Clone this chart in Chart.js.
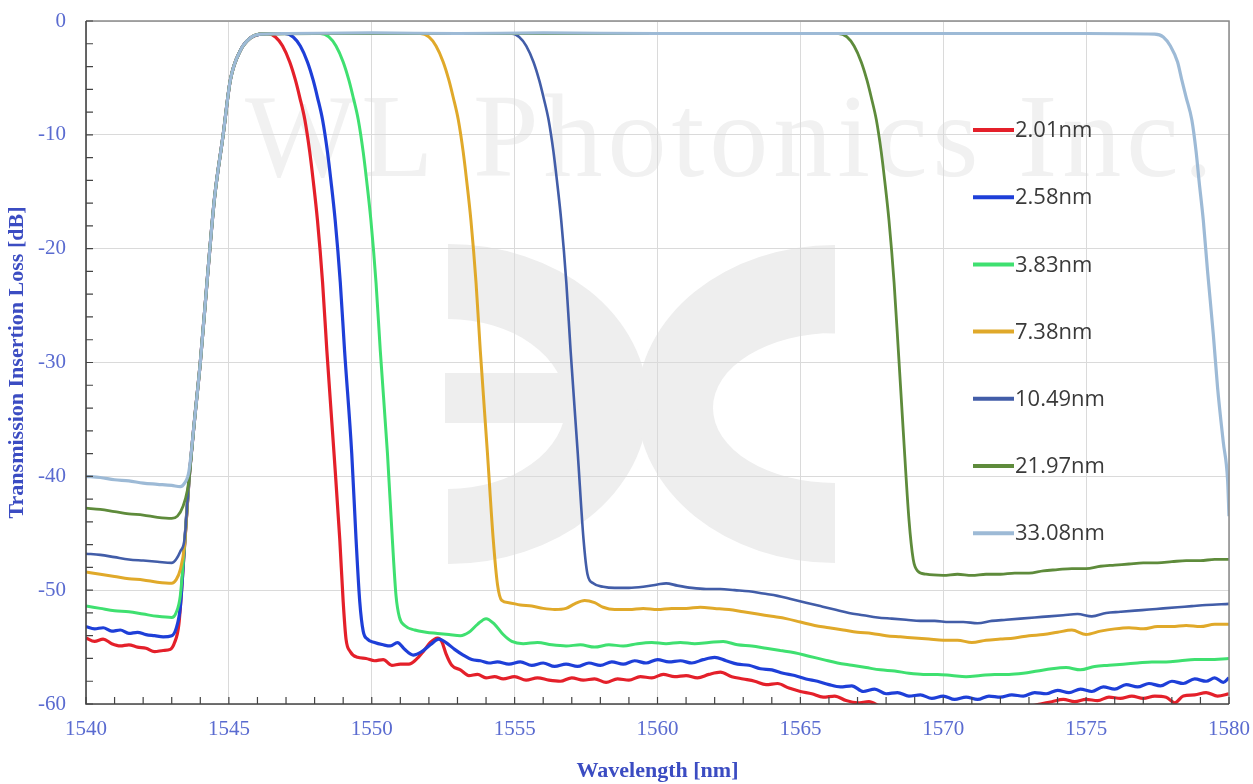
<!DOCTYPE html>
<html>
<head>
    <title>Transmission Insertion Loss</title>
    <script src="https://cdn.jsdelivr.net/npm/chart.js"></script>
    <style>
        body { margin: 0; background: #ffffff; }
        #wrap { width: 1253px; height: 784px; }
    </style>
</head>
<body>
    <div id="wrap">
        <canvas id="lossChart" width="1253" height="784"></canvas>
    </div>

    <script>
        // legend labels (filter bandwidths)
        const seriesNames = ['2.01nm', '2.58nm', '3.83nm', '7.38nm', '10.49nm', '21.97nm', '33.08nm'];
        const seriesColors = ['#e4202a', '#1e3fd8', '#3fe070', '#e0a92a', '#425da8', '#5e8b3b', '#9dbad6'];

        // axis ticks
        const xTicks = [1540, 1545, 1550, 1555, 1560, 1565, 1570, 1575, 1580];
        const yTicks = [0, -10, -20, -30, -40, -50, -60];

        // 2.01nm
        const wl201 = [1540, 1540.3, 1540.6, 1540.9, 1541.2, 1541.5, 1541.8, 1542.1, 1542.4, 1542.7, 1542.95, 1543.1, 1543.25, 1543.4,
            1543.6, 1543.8, 1544.0, 1544.25, 1544.5, 1544.8, 1545.05, 1545.4, 1545.75, 1546.1,
            1546.33, 1546.63, 1546.88, 1547.13, 1547.33, 1547.48, 1547.66, 1547.83, 1547.95, 1548.1, 1548.28, 1548.43, 1548.68, 1548.88, 1549.0, 1549.1, 1549.25,
            1549.5, 1549.8, 1550.1, 1550.4, 1550.7, 1551.0, 1551.3, 1551.55, 1551.8, 1552.05, 1552.3, 1552.45, 1552.6, 1552.8, 1553.1, 1553.4, 1553.7,
            1554.0, 1554.3, 1554.6, 1555.0, 1555.4, 1555.8, 1556.2, 1556.6, 1557.0, 1557.4, 1557.8, 1558.2, 1558.6, 1559.0, 1559.4, 1559.8,
            1560.2, 1560.6, 1561.0, 1561.4, 1561.8, 1562.2, 1562.6, 1563.0, 1563.4, 1563.8, 1564.2, 1564.6, 1565.0, 1565.4, 1565.8,
            1566.2, 1566.6, 1567.0, 1567.4, 1567.8, 1568.5, 1569.5, 1570.5, 1571.5, 1572.5, 1573.0, 1573.4, 1573.8, 1574.2, 1574.6,
            1575.0, 1575.4, 1575.8, 1576.2, 1576.6, 1577.0, 1577.4, 1577.8, 1578.1, 1578.4, 1578.8, 1579.2, 1579.6, 1580.0];
        const il201 = [-54.2, -54.5, -54.3, -54.7, -54.9, -54.8, -55.0, -55.1, -55.4, -55.3, -55.2, -54.6, -53.0, -48.0,
            -40.5, -35, -30, -22.5, -15.5, -10, -5.2, -2.6, -1.5, -1.15,
            -1.1, -1.4, -2.2, -3.6, -5.2, -6.7, -8.7, -11.5, -14, -17.5, -23, -29, -38, -45.5, -51, -54.3, -55.4,
            -55.9, -56.0, -56.2, -56.1, -56.6, -56.5, -56.5, -56.1, -55.4, -54.6, -54.2, -54.5, -55.6, -56.6, -57.0, -57.5, -57.4,
            -57.7, -57.6, -57.8, -57.6, -57.9, -57.7, -57.9, -58.0, -57.7, -57.9, -57.8, -58.1, -57.8, -57.9, -57.6, -57.7,
            -57.4, -57.6, -57.5, -57.7, -57.4, -57.2, -57.6, -57.8, -58.0, -58.3, -58.2, -58.6, -58.9, -59.1, -59.4,
            -59.3, -59.7, -59.9, -59.8, -60.2, -60.5, -60.6, -60.7, -60.5, -60.3, -60.2, -60.0, -59.8, -59.6, -59.8,
            -59.6, -59.7, -59.4, -59.5, -59.3, -59.5, -59.3, -59.4, -59.9, -59.3, -59.2, -59.0, -59.3, -59.1];

        // 2.58nm
        const wl258 = [1540, 1540.3, 1540.6, 1540.9, 1541.2, 1541.5, 1541.8, 1542.1, 1542.4, 1542.7, 1543.0, 1543.15, 1543.3, 1543.45,
            1543.6, 1543.8, 1544.0, 1544.25, 1544.5, 1544.8, 1545.05, 1545.4, 1545.75, 1546.1, 1546.5,
            1546.95, 1547.25, 1547.5, 1547.75, 1547.95, 1548.1, 1548.28, 1548.45, 1548.57, 1548.72, 1548.9, 1549.05, 1549.3, 1549.45, 1549.58, 1549.7, 1549.85,
            1550.1, 1550.4, 1550.65, 1550.9, 1551.15, 1551.45, 1551.75, 1552.05, 1552.35, 1552.6, 1552.9, 1553.2, 1553.5, 1553.8,
            1554.1, 1554.4, 1554.8, 1555.2, 1555.6, 1556.0, 1556.4, 1556.8, 1557.2, 1557.6, 1558.0, 1558.4, 1558.8, 1559.2, 1559.6,
            1560.0, 1560.4, 1560.8, 1561.2, 1561.6, 1562.0, 1562.4, 1562.8, 1563.2, 1563.6, 1564.0, 1564.4, 1564.8, 1565.2, 1565.6,
            1566.0, 1566.4, 1566.8, 1567.2, 1567.6, 1568.0, 1568.4, 1568.8, 1569.2, 1569.6, 1570.0, 1570.4, 1570.8, 1571.2, 1571.6,
            1572.0, 1572.4, 1572.8, 1573.2, 1573.6, 1574.0, 1574.4, 1574.8, 1575.2, 1575.6, 1576.0, 1576.4, 1576.8, 1577.2, 1577.6,
            1578.0, 1578.4, 1578.8, 1579.2, 1579.5, 1579.8, 1580.0];
        const il258 = [-53.2, -53.4, -53.3, -53.6, -53.5, -53.8, -53.7, -53.9, -54.0, -54.1, -54.0, -53.4, -51.5, -46,
            -40.5, -35, -30, -22.5, -15.5, -10, -5.2, -2.6, -1.5, -1.15, -1.1,
            -1.1, -1.4, -2.2, -3.6, -5.2, -6.7, -8.7, -11.5, -14, -17.5, -23, -29, -38, -45.5, -51, -53.6, -54.3,
            -54.6, -54.8, -54.9, -54.6, -55.2, -55.7, -55.4, -54.8, -54.3, -54.6, -55.2, -55.7, -56.1, -56.2,
            -56.4, -56.3, -56.5, -56.3, -56.6, -56.4, -56.7, -56.5, -56.7, -56.4, -56.6, -56.3, -56.5, -56.2, -56.4,
            -56.1, -56.3, -56.2, -56.4, -56.1, -55.9, -56.2, -56.5, -56.6, -56.9, -57.0, -57.3, -57.5, -57.8, -58.0,
            -58.3, -58.5, -58.4, -58.9, -58.7, -59.1, -59.0, -59.3, -59.2, -59.5, -59.3, -59.6, -59.4, -59.6, -59.3,
            -59.4, -59.2, -59.3, -59.0, -59.1, -58.8, -59.0, -58.7, -58.9, -58.5, -58.7, -58.3, -58.5, -58.2, -58.4,
            -58.0, -58.2, -57.8, -58.0, -57.7, -58.1, -57.7];

        // 3.83nm
        const wl383 = [1540, 1540.5, 1541.0, 1541.5, 1542.0, 1542.5, 1543.0, 1543.15, 1543.3, 1543.45,
            1543.6, 1543.8, 1544.0, 1544.25, 1544.5, 1544.8, 1545.05, 1545.4, 1545.75, 1546.1, 1546.6, 1547.2, 1547.8,
            1548.2, 1548.5, 1548.75, 1549.0, 1549.2, 1549.35, 1549.53, 1549.7, 1549.82, 1549.97, 1550.15, 1550.3, 1550.55, 1550.72, 1550.85, 1550.97,
            1551.15, 1551.5, 1551.9, 1552.3, 1552.7, 1553.1, 1553.4, 1553.7, 1554.0, 1554.3, 1554.6, 1554.9, 1555.3, 1555.8,
            1556.3, 1556.8, 1557.3, 1557.8, 1558.3, 1558.8, 1559.3, 1559.8, 1560.3, 1560.8, 1561.3, 1561.8, 1562.3, 1562.8,
            1563.3, 1563.8, 1564.3, 1564.8, 1565.3, 1565.8, 1566.3, 1566.8, 1567.3, 1567.8, 1568.3, 1568.8, 1569.3, 1569.8,
            1570.3, 1570.8, 1571.3, 1571.8, 1572.3, 1572.8, 1573.3, 1573.8, 1574.3, 1574.8, 1575.3, 1575.8, 1576.3, 1576.8,
            1577.3, 1577.8, 1578.3, 1578.8, 1579.3, 1580.0];
        const il383 = [-51.4, -51.6, -51.8, -51.9, -52.1, -52.3, -52.4, -52.0, -50.5, -46,
            -40.5, -35, -30, -22.5, -15.5, -10, -5.2, -2.6, -1.5, -1.15, -1.1, -1.1, -1.1,
            -1.1, -1.4, -2.2, -3.6, -5.2, -6.7, -8.7, -11.5, -14, -17.5, -23, -29, -38, -45.5, -50.5, -52.4,
            -53.1, -53.5, -53.7, -53.8, -53.9, -54.0, -53.7, -53.0, -52.5, -53.0, -53.9, -54.5, -54.7, -54.6,
            -54.8, -54.9, -54.8, -55.0, -54.8, -54.9, -54.7, -54.6, -54.7, -54.6, -54.7, -54.6, -54.5, -54.8,
            -54.9, -55.1, -55.3, -55.5, -55.8, -56.1, -56.4, -56.6, -56.8, -57.0, -57.1, -57.3, -57.4, -57.4,
            -57.5, -57.6, -57.5, -57.4, -57.4, -57.3, -57.1, -56.9, -56.8, -57.0, -56.7, -56.6, -56.5, -56.4,
            -56.3, -56.3, -56.2, -56.1, -56.1, -56.0];

        // 7.38nm
        const wl738 = [1540, 1540.5, 1541.0, 1541.5, 1542.0, 1542.5, 1543.0, 1543.15, 1543.3, 1543.45,
            1543.6, 1543.8, 1544.0, 1544.25, 1544.5, 1544.8, 1545.05, 1545.4, 1545.75, 1546.1, 1547, 1548, 1549, 1550, 1551,
            1551.7, 1552.0, 1552.25, 1552.5, 1552.7, 1552.85, 1553.03, 1553.2, 1553.32, 1553.47, 1553.65, 1553.8, 1554.05, 1554.25, 1554.4, 1554.55,
            1554.8, 1555.2, 1555.6, 1556.0, 1556.4, 1556.8, 1557.1, 1557.45, 1557.8, 1558.1, 1558.5, 1559.0, 1559.5, 1560.0,
            1560.5, 1561.0, 1561.5, 1562.0, 1562.5, 1563.0, 1563.5, 1564.0, 1564.5, 1565.0, 1565.5, 1566.0, 1566.5, 1567.0,
            1567.5, 1568.0, 1568.5, 1569.0, 1569.5, 1570.0, 1570.5, 1571.0, 1571.5, 1572.0, 1572.5, 1573.0, 1573.5, 1574.0,
            1574.5, 1575.0, 1575.5, 1576.0, 1576.5, 1577.0, 1577.5, 1578.0, 1578.5, 1579.0, 1579.5, 1580.0];
        const il738 = [-48.4, -48.6, -48.8, -49.0, -49.1, -49.3, -49.4, -49.1, -48.2, -46,
            -40.5, -35, -30, -22.5, -15.5, -10, -5.2, -2.6, -1.5, -1.15, -1.1, -1.1, -1.1, -1.1, -1.1,
            -1.1, -1.4, -2.2, -3.6, -5.2, -6.7, -8.7, -11.5, -14, -17.5, -23, -29, -38, -45.5, -49.5, -50.9,
            -51.1, -51.3, -51.4, -51.6, -51.7, -51.6, -51.2, -50.9, -51.1, -51.5, -51.7, -51.7, -51.6, -51.7,
            -51.6, -51.6, -51.5, -51.6, -51.7, -51.9, -52.1, -52.3, -52.5, -52.8, -53.1, -53.3, -53.5, -53.7,
            -53.8, -54.0, -54.1, -54.2, -54.3, -54.4, -54.4, -54.6, -54.4, -54.3, -54.2, -54.0, -53.9, -53.7,
            -53.5, -53.9, -53.6, -53.4, -53.3, -53.4, -53.2, -53.2, -53.1, -53.2, -53.0, -53.0];

        // 10.49nm
        const wl1049 = [1540, 1540.5, 1541.0, 1541.5, 1542.0, 1542.5, 1543.0, 1543.15, 1543.3, 1543.45,
            1543.6, 1543.8, 1544.0, 1544.25, 1544.5, 1544.8, 1545.05, 1545.4, 1545.75, 1546.1, 1548, 1550, 1552, 1554,
            1554.86, 1555.16, 1555.41, 1555.66, 1555.86, 1556.01, 1556.19, 1556.36, 1556.48, 1556.63, 1556.81, 1556.96, 1557.21, 1557.41, 1557.55, 1557.75,
            1558.1, 1558.5, 1559.0, 1559.5, 1560.0, 1560.3, 1560.7, 1561.2, 1561.7, 1562.2, 1562.7, 1563.2, 1563.7, 1564.2,
            1564.7, 1565.2, 1565.7, 1566.2, 1566.7, 1567.2, 1567.7, 1568.2, 1568.7, 1569.2, 1569.7, 1570.2, 1570.7, 1571.2,
            1571.7, 1572.2, 1572.7, 1573.2, 1573.7, 1574.2, 1574.7, 1575.2, 1575.7, 1576.2, 1576.7, 1577.2, 1577.7, 1578.2,
            1578.7, 1579.2, 1580.0];
        const il1049 = [-46.8, -46.9, -47.1, -47.3, -47.4, -47.5, -47.6, -47.3, -46.6, -45.5,
            -40.5, -35, -30, -22.5, -15.5, -10, -5.2, -2.6, -1.5, -1.15, -1.1, -1.1, -1.1, -1.1,
            -1.1, -1.4, -2.2, -3.6, -5.2, -6.7, -8.7, -11.5, -14, -17.5, -23, -29, -38, -45.5, -48.6, -49.4,
            -49.7, -49.8, -49.8, -49.7, -49.5, -49.4, -49.6, -49.8, -49.9, -49.9, -50.0, -50.1, -50.3, -50.5,
            -50.8, -51.1, -51.4, -51.7, -52.0, -52.2, -52.4, -52.5, -52.6, -52.7, -52.7, -52.8, -52.8, -52.9,
            -52.7, -52.6, -52.5, -52.4, -52.3, -52.2, -52.1, -52.3, -52.0, -51.9, -51.8, -51.7, -51.6, -51.5,
            -51.4, -51.3, -51.2];

        // 21.97nm
        const wl2197 = [1540, 1540.5, 1541.0, 1541.5, 1542.0, 1542.5, 1543.0, 1543.2, 1543.4, 1543.55,
            1543.6, 1543.8, 1544.0, 1544.25, 1544.5, 1544.8, 1545.05, 1545.4, 1545.75, 1546.1, 1548, 1552, 1556, 1560, 1564,
            1566.33, 1566.63, 1566.88, 1567.13, 1567.33, 1567.48, 1567.66, 1567.83, 1567.95, 1568.1, 1568.28, 1568.43, 1568.6, 1568.8, 1568.95, 1569.1,
            1569.4, 1570.0, 1570.5, 1571.0, 1571.5, 1572.0, 1572.5, 1573.0, 1573.5, 1574.0, 1574.5, 1575.0, 1575.5, 1576.0,
            1576.5, 1577.0, 1577.5, 1578.0, 1578.5, 1579.0, 1579.5, 1580.0];
        const il2197 = [-42.8, -42.9, -43.1, -43.3, -43.4, -43.6, -43.7, -43.5, -42.6, -41.2,
            -40.3, -35, -30, -22.5, -15.5, -10, -5.2, -2.6, -1.5, -1.15, -1.1, -1.1, -1.1, -1.1, -1.1,
            -1.1, -1.4, -2.2, -3.6, -5.2, -6.7, -8.7, -11.5, -14, -17.5, -23, -29, -36, -43.8, -47.3, -48.3,
            -48.6, -48.7, -48.6, -48.7, -48.6, -48.6, -48.5, -48.5, -48.3, -48.2, -48.1, -48.1, -47.9, -47.8,
            -47.7, -47.6, -47.6, -47.5, -47.4, -47.4, -47.3, -47.3];

        // 33.08nm
        const wl3308 = [1540, 1540.5, 1541.0, 1541.5, 1542.0, 1542.5, 1543.0, 1543.3, 1543.45, 1543.6,
            1543.8, 1544.0, 1544.25, 1544.5, 1544.8, 1545.05, 1545.4, 1545.75, 1546.1, 1547, 1550, 1553, 1556, 1560, 1565, 1570, 1575,
            1577.4, 1577.7, 1577.95, 1578.2, 1578.35, 1578.5, 1578.7, 1578.85, 1578.95, 1579.1, 1579.25, 1579.45, 1579.6, 1579.8, 1579.95, 1580.0];
        const il3308 = [-40.0, -40.1, -40.3, -40.4, -40.6, -40.7, -40.8, -40.9, -40.6, -39.6,
            -35, -30, -22.5, -15.5, -10, -5.2, -2.6, -1.5, -1.15, -1.1, -1.05, -1.1, -1.05, -1.1, -1.1, -1.1, -1.1,
            -1.15, -1.4, -2.2, -3.6, -5.2, -6.7, -8.7, -11.5, -14, -17.5, -22, -27.5, -32.2, -37, -40.3, -43.5];

        const wlSets = [wl201, wl258, wl383, wl738, wl1049, wl2197, wl3308];
        const ilSets = [il201, il258, il383, il738, il1049, il2197, il3308];

        const tickBlue = '#5a6bd0';
        const titleBlue = '#3b4cc2';

        // white page, faint logo and company watermark behind the grid
        const watermark = {
            id: 'watermark',
            beforeDraw(chart) {
                const ctx = chart.ctx;
                const a = chart.chartArea;
                ctx.save();
                ctx.fillStyle = '#ffffff';
                ctx.fillRect(0, 0, chart.width, chart.height);

                const ox = a.left, oy = a.top;
                ctx.fillStyle = '#eeeeee';
                // left crescent
                ctx.beginPath();
                ctx.ellipse(ox + 362, oy + 383, 200, 160, 0, -Math.PI / 2, Math.PI / 2);
                ctx.closePath();
                ctx.ellipse(ox + 362, oy + 383, 118, 85, 0, -Math.PI / 2, Math.PI / 2);
                ctx.closePath();
                ctx.fill('evenodd');
                ctx.fillRect(ox + 359, oy + 352, 150, 50);
                // right "C"
                ctx.beginPath();
                ctx.ellipse(ox + 749, oy + 383, 198, 159, 0, Math.PI / 2, Math.PI * 1.5);
                ctx.closePath();
                ctx.ellipse(ox + 749, oy + 387, 122, 75, 0, Math.PI / 2, Math.PI * 1.5);
                ctx.closePath();
                ctx.fill('evenodd');

                ctx.fillStyle = '#f1f1f1';
                ctx.font = '118px "Liberation Serif", serif';
                ctx.letterSpacing = '5px';
                ctx.textBaseline = 'alphabetic';
                ctx.fillText('WL Photonics Inc.', ox + 159, oy + 155);
                ctx.restore();
            }
        };

        // frame, inward minor ticks and the legend on top of the curves
        const frameAndLegend = {
            id: 'frameAndLegend',
            afterDatasetsDraw(chart) {
                const ctx = chart.ctx;
                const a = chart.chartArea;
                const xs = chart.scales.x, ys = chart.scales.y;
                ctx.save();

                ctx.strokeStyle = '#8a8a8a';
                ctx.lineWidth = 1.5;
                ctx.beginPath();
                ctx.moveTo(a.left, a.top);
                ctx.lineTo(a.right, a.top);
                ctx.lineTo(a.right, a.bottom);
                ctx.stroke();

                ctx.strokeStyle = '#444444';
                ctx.lineWidth = 1.6;
                ctx.beginPath();
                ctx.moveTo(a.left, a.top);
                ctx.lineTo(a.left, a.bottom);
                ctx.lineTo(a.right, a.bottom);
                ctx.stroke();

                ctx.lineWidth = 1.2;
                ctx.beginPath();
                for (let v = xs.min; v <= xs.max; v += 1) {
                    const px = xs.getPixelForValue(v);
                    ctx.moveTo(px, a.bottom);
                    ctx.lineTo(px, a.bottom - 7);
                }
                for (let v = ys.min; v <= ys.max; v += 2) {
                    const py = ys.getPixelForValue(v);
                    ctx.moveTo(a.left, py);
                    ctx.lineTo(a.left + 7, py);
                }
                ctx.stroke();

                // legend
                const lx = a.left + 887;
                const ly = a.top + 109;
                ctx.font = '22px "Open Sans", sans-serif';
                ctx.textBaseline = 'middle';
                ctx.textAlign = 'left';
                seriesNames.forEach((name, i) => {
                    const y = ly + i * 67.2;
                    ctx.strokeStyle = seriesColors[i];
                    ctx.lineWidth = 4;
                    ctx.beginPath();
                    ctx.moveTo(lx, y);
                    ctx.lineTo(lx + 41, y);
                    ctx.stroke();
                    ctx.fillStyle = '#3a3a3a';
                    ctx.fillText(name, lx + 42, y + 1);
                });
                ctx.restore();
            }
        };

        const widths = [3.2, 3.2, 3, 3, 2.6, 2.8, 3.2];
        const datasets = seriesNames.map((name, i) => ({
            label: name,
            data: wlSets[i].map((x, k) => ({ x: x, y: ilSets[i][k] })),
            borderColor: seriesColors[i],
            backgroundColor: seriesColors[i],
            borderWidth: widths[i],
            pointRadius: 0,
            fill: false,
            cubicInterpolationMode: 'monotone',
            order: seriesNames.length - 1 - i
        }));

        const ctx = document.getElementById('lossChart');
        new Chart(ctx, {
            type: 'line',
            data: { datasets: datasets },
            options: {
                responsive: false,
                animation: false,
                layout: { autoPadding: false, padding: { top: 21, right: 24, left: 0, bottom: 0 } },
                plugins: {
                    legend: { display: false },
                    tooltip: { enabled: false }
                },
                scales: {
                    x: {
                        type: 'linear',
                        min: xTicks[0],
                        max: xTicks[xTicks.length - 1],
                        afterBuildTicks: (scale) => { scale.ticks = xTicks.map(v => ({ value: v })); },
                        afterFit: (scale) => {
                            scale.height = 80;
                            scale.paddingLeft = 0;
                            scale.paddingRight = 0;
                        },
                        ticks: {
                            color: tickBlue,
                            font: { family: 'Liberation Serif', size: 21 },
                            padding: 13,
                            maxRotation: 0,
                            callback: (v) => String(v)
                        },
                        grid: { color: '#dadada', lineWidth: 1, drawTicks: false },
                        border: { display: false },
                        title: {
                            display: true,
                            text: 'Wavelength [nm]',
                            color: titleBlue,
                            font: { family: 'Liberation Serif', size: 22, weight: 'bold' },
                            padding: { top: 0, bottom: -1 }
                        }
                    },
                    y: {
                        type: 'linear',
                        min: yTicks[yTicks.length - 1],
                        max: yTicks[0],
                        afterBuildTicks: (scale) => { scale.ticks = yTicks.slice().reverse().map(v => ({ value: v })); },
                        afterFit: (scale) => {
                            scale.width = 86;
                            scale.paddingTop = 0;
                            scale.paddingBottom = 0;
                        },
                        ticks: {
                            color: tickBlue,
                            font: { family: 'Liberation Serif', size: 21 },
                            padding: 20,
                            callback: (v) => String(v)
                        },
                        grid: { color: '#dadada', lineWidth: 1, drawTicks: false },
                        border: { display: false },
                        title: {
                            display: true,
                            text: 'Transmission Insertion Loss [dB]',
                            color: titleBlue,
                            font: { family: 'Liberation Serif', size: 22, weight: 'bold' },
                            padding: { top: 4, bottom: 0 }
                        }
                    }
                }
            },
            plugins: [watermark, frameAndLegend]
        });
    </script>
</body>
</html>
